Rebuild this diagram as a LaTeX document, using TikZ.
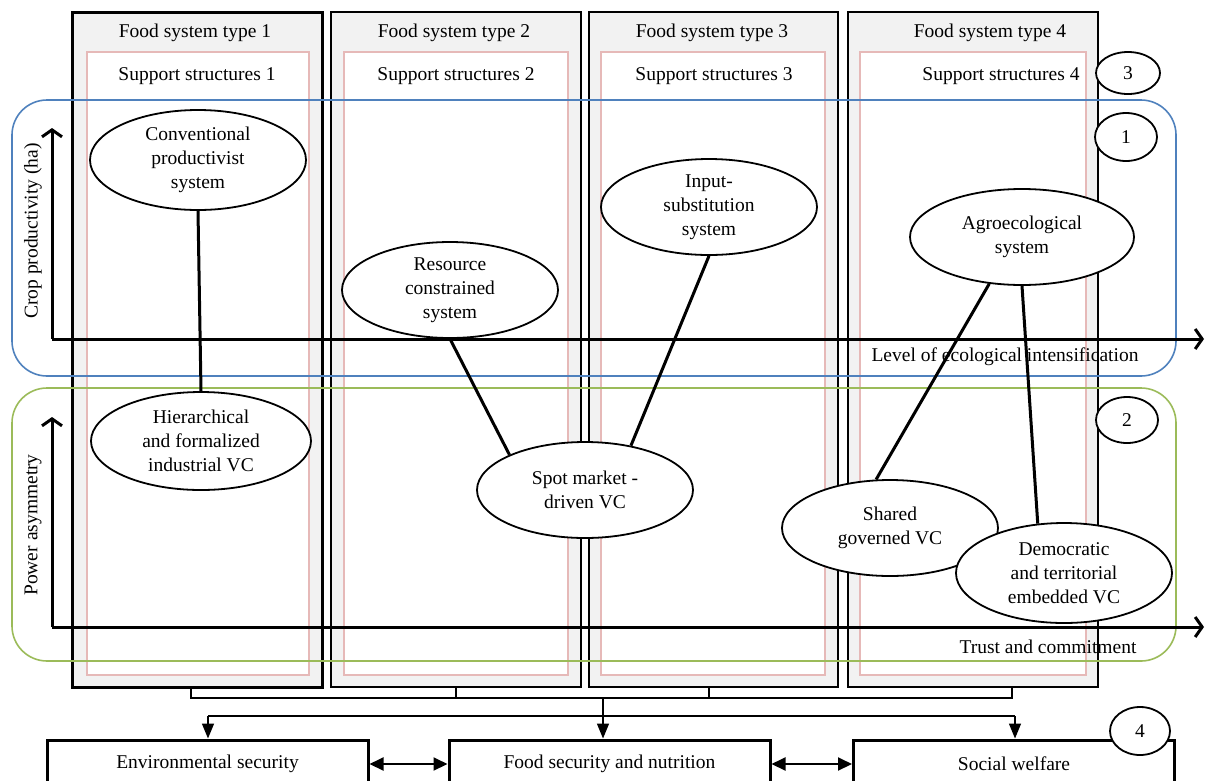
\documentclass[tikz,border=0pt]{standalone}
\usepackage{fontspec}
\setmainfont{Liberation Serif}
\usetikzlibrary{shapes.geometric,arrows.meta}
\definecolor{colgray}{HTML}{F2F2F2}
\definecolor{pinkline}{HTML}{E6B9B8}
\definecolor{blueline}{HTML}{4F81BD}
\definecolor{greenline}{HTML}{9BBB59}
\begin{document}
\begin{tikzpicture}[x=1pt,y=-1pt,
  font=\fontsize{19.5}{24}\selectfont,
  colbox/.style={draw=black, line width=2pt, fill=colgray, inner sep=0pt},
  suppbox/.style={draw=pinkline, line width=1.5pt, fill=white, inner sep=0pt},
  zone/.style={line width=1.6pt, rounded corners=35pt, minimum width=1164pt, inner sep=0pt},
  ell/.style={ellipse, draw, line width=1.8pt, fill=white, align=center, inner sep=0pt},
  link/.style={line width=3pt},
  axisline/.style={line width=3pt, -{Straight Barb[length=7pt,width=20pt]}},
  num/.style={ellipse, draw, line width=1.8pt, fill=white, inner sep=0pt, minimum width=62pt, minimum height=44pt},
  outbox/.style={draw, line width=3pt, fill=white, minimum width=321pt, minimum height=48pt, inner sep=0pt},
  bus/.style={line width=1.5pt},
  busarrow/.style={line width=1.5pt, -{Triangle[length=15pt,width=12pt]}},
  dbl/.style={line width=2pt, {Triangle[length=14pt,width=13pt]}-{Triangle[length=14pt,width=13pt]}}
]
\useasboundingbox (0,0) rectangle (1205,780);

% food system columns
\node[colbox, line width=3pt, minimum width=250pt, minimum height=675pt] (c1) at (197,349.5) {};
\node[colbox, minimum width=250pt, minimum height=675pt] (c2) at (456,349.5) {};
\node[colbox, minimum width=249pt, minimum height=675pt] (c3) at (713.5,349.5) {};
\node[colbox, minimum width=250pt, minimum height=675pt] (c4) at (973,349.5) {};
\node[suppbox, minimum width=222pt, minimum height=623pt] (s1) at (198,363.5) {};
\node[suppbox, minimum width=224pt, minimum height=623pt] (s2) at (456,363.5) {};
\node[suppbox, minimum width=224pt, minimum height=623pt] (s3) at (713,363.5) {};
\node[suppbox, minimum width=226pt, minimum height=623pt] (s4) at (973,363.5) {};

\node (t1) at (195,33) {Food system type 1};
\node (t2) at (454,33) {Food system type 2};
\node (t3) at (712,33) {Food system type 3};
\node (t4) at (990,33) {Food system type 4};
\node (l1) at (197,76) {Support structures 1};
\node (l2) at (456,76) {Support structures 2};
\node (l3) at (714,76) {Support structures 3};
\node (l4) at (1001,76) {Support structures 4};

% zones
\node[zone, draw=blueline, minimum height=276pt] (z1) at (594,238) {};
\node[zone, draw=greenline, minimum height=273pt] (z2) at (594,524.5) {};

% number badges
\node[num, minimum width=64pt, minimum height=42pt] (n3) at (1128,73) {3};
\node[num, minimum height=48pt] (n1) at (1126,137) {1};
\node[num, minimum height=46pt] (n2) at (1127,420) {2};

% axes
\coordinate (o1) at (52,339);
\coordinate (y1) at (52,128);
\coordinate (x1) at (1204,339);
\coordinate (o2) at (52,627);
\coordinate (y2) at (52,417);
\coordinate (x2) at (1204,627);
\draw[axisline] (o1) -- (y1);
\draw[axisline] (o1) -- (x1);
\draw[axisline] (o2) -- (y2);
\draw[axisline] (o2) -- (x2);
\node[rotate=90] (ylab1) at (33,231) {Crop productivity (ha)};
\node[rotate=90] (ylab2) at (33,525) {Power asymmetry};
\node[anchor=east] (xlab1) at (1142,357) {Level of ecological intensification};
\node[anchor=east] (xlab2) at (1140,647) {Trust and commitment};

% systems and value chains
\node[ell, minimum width=216pt, minimum height=100pt] (conv) at (198,160) {Conventional\\productivist\\system};
\node[ell, minimum width=220pt, minimum height=98pt] (hier) at (201,441) {Hierarchical\\and formalized\\industrial VC};
\node[ell, minimum width=216pt, minimum height=96pt] (res) at (450,290) {Resource\\constrained\\system};
\node[ell, minimum width=216pt, minimum height=96pt] (inp) at (709,207) {Input-\\substitution\\system};
\node[ell, minimum width=216pt, minimum height=96pt] (spot) at (585,490) {Spot market -\\driven VC};
\node[ell, minimum width=224pt, minimum height=96pt] (agro) at (1022,237) {Agroecological\\system};
\node[ell, minimum width=216pt, minimum height=96pt] (shared) at (890,528) {Shared\\governed VC};
\node[ell, minimum width=216pt, minimum height=100pt] (dem) at (1064,573) {Democratic\\and territorial\\embedded VC};

\draw[link] (conv.south) -- (hier.north);
\draw[link] (res.south) -- (spot.155);
\draw[link] (inp.south) -- (spot.44);
\draw[link] (agro.235) -- (shared.106);
\draw[link] (agro.south) -- (dem.118);

% outcomes
\node[outbox] (env) at (207.5,764) {Environmental security};
\node[outbox] (fsn) at (609.5,764) {Food security and nutrition};
\node[outbox] (sw) at (1014,764) {Social welfare};
\node[num, minimum width=60pt, minimum height=48pt] (n4) at (1140,731) {4};

\coordinate (b1) at (191,698);
\coordinate (b4) at (1012,698);
\coordinate (bm) at (603,698);
\coordinate (d1) at (208,716);
\coordinate (d4) at (1015,716);
\draw[bus] (c1.south -| b1) -- (b1) -- (b4) -- (c4.south -| b4);
\draw[bus] (c2.south) -- (c2.south |- b1);
\draw[bus] (c3.south -| 709,0) -- (709,698);
\draw[busarrow] (bm) -- (fsn.north -| bm);
\draw[bus] (d1) -- (d4);
\draw[busarrow] (d1) -- (env.north -| d1);
\draw[busarrow] (d4) -- (sw.north -| d4);
\draw[dbl] (env.east) -- (fsn.west);
\draw[dbl] (fsn.east) -- (sw.west);
\end{tikzpicture}
\end{document}
